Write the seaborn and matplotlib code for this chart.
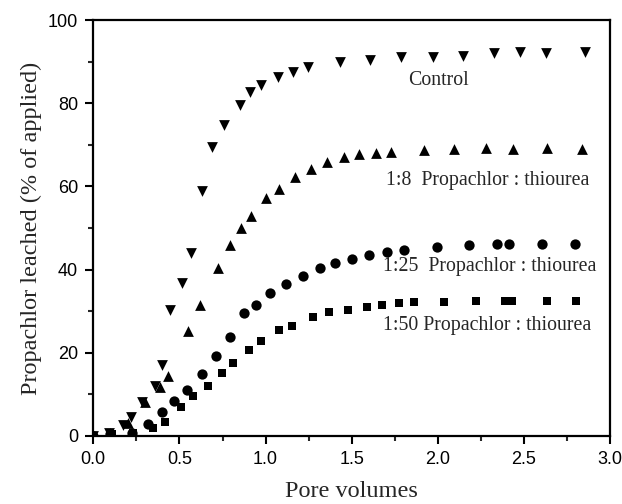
import pandas as pd
import matplotlib.pyplot as plt
import seaborn as sns
from matplotlib.ticker import MultipleLocator

# data
ctrl_x = [0, 0.09, 0.17, 0.22, 0.28, 0.357, 0.396, 0.448, 0.514, 0.566, 0.628, 0.691,
          0.759, 0.851, 0.911, 0.973, 1.071, 1.160, 1.247, 1.43, 1.606, 1.786, 1.969,
          2.148, 2.326, 2.476, 2.625, 2.853]
ctrl_y = [0, 0.6, 2.6, 4.6, 8.2, 12.0, 17.0, 30.4, 36.8, 44.0, 58.9, 69.5,
          74.7, 79.6, 82.8, 84.4, 86.3, 87.6, 88.7, 90.0, 90.4, 91.1, 91.2,
          91.5, 92.1, 92.3, 92.0, 92.3]

r8_x = [0, 0.097, 0.203, 0.30, 0.386, 0.436, 0.547, 0.618, 0.724, 0.792, 0.859, 0.917,
        1.004, 1.077, 1.168, 1.265, 1.357, 1.453, 1.544, 1.641, 1.725, 1.921, 2.094,
        2.278, 2.436, 2.635, 2.837]
r8_y = [0, 0.8, 3.0, 8.2, 11.8, 14.5, 25.2, 31.5, 40.4, 45.9, 50.1, 52.9,
        57.2, 59.5, 62.3, 64.3, 65.9, 67.2, 67.9, 68.0, 68.3, 68.8, 69.1,
        69.2, 69.1, 69.2, 69.1]

r25_x = [0, 0.097, 0.222, 0.319, 0.396, 0.469, 0.541, 0.633, 0.714, 0.792, 0.873, 0.942,
         1.027, 1.116, 1.220, 1.313, 1.405, 1.500, 1.602, 1.703, 1.805, 1.992, 2.181,
         2.345, 2.413, 2.602, 2.795]
r25_y = [0, 0.5, 0.8, 2.9, 5.8, 8.5, 11.0, 15.0, 19.2, 23.7, 29.5, 31.5,
         34.3, 36.5, 38.4, 40.3, 41.5, 42.5, 43.6, 44.3, 44.8, 45.4, 45.9,
         46.1, 46.1, 46.1, 46.1]

r50_x = [0, 0.106, 0.228, 0.344, 0.415, 0.508, 0.579, 0.666, 0.745, 0.811, 0.901, 0.975,
         1.075, 1.152, 1.274, 1.367, 1.478, 1.587, 1.676, 1.772, 1.863, 2.036, 2.220,
         2.39, 2.43, 2.635, 2.799]
r50_y = [0, 0.4, 0.6, 1.8, 3.4, 7.0, 9.6, 12.0, 15.2, 17.6, 20.6, 22.9,
         25.4, 26.5, 28.5, 29.7, 30.3, 31.0, 31.5, 31.9, 32.1, 32.2, 32.4,
         32.4, 32.4, 32.4, 32.4]

sns.set_style("ticks")
plt.rcParams['font.family'] = ['Liberation Sans', 'DejaVu Sans']

fig = plt.figure(figsize=(6.22, 5.04), dpi=100)
ax = fig.add_axes([0.150, 0.135, 0.831, 0.825])

sns.scatterplot(x=ctrl_x, y=ctrl_y, marker='v', s=60, color='black', linewidth=0, ax=ax)
sns.scatterplot(x=r8_x, y=r8_y, marker='^', s=60, color='black', linewidth=0, ax=ax)
sns.scatterplot(x=r25_x, y=r25_y, marker='o', s=55, color='black', linewidth=0, ax=ax)
sns.scatterplot(x=r50_x, y=r50_y, marker='s', s=40, color='black', linewidth=0, ax=ax)

ax.set_xlim(0, 3.0)
ax.set_ylim(0, 100)
ax.xaxis.set_major_locator(MultipleLocator(0.5))
ax.xaxis.set_minor_locator(MultipleLocator(0.25))
ax.yaxis.set_major_locator(MultipleLocator(20))
ax.yaxis.set_minor_locator(MultipleLocator(10))
ax.tick_params(which='major', direction='out', length=6, width=1.5, labelsize=13,
               colors='black', pad=5)
ax.tick_params(which='minor', direction='out', length=3.5, width=1.5)
ax.xaxis.set_major_formatter(plt.FuncFormatter(lambda v, p: f"{v:.1f}"))
for sp in ax.spines.values():
    sp.set_linewidth(1.6)
    sp.set_color('black')

serif = ['Liberation Serif', 'DejaVu Serif']
ax.set_xlabel('Pore volumes', fontsize=17.5, family=serif, labelpad=9)
ax.set_ylabel('Propachlor leached (% of applied)', fontsize=17.5, family=serif, labelpad=4)

ax.text(1.83, 85.5, 'Control', fontsize=14.3, family=serif, va='center')
ax.text(1.70, 61.5, '1:8  Propachlor : thiourea', fontsize=14.3, family=serif, va='center')
ax.text(1.68, 40.7, '1:25  Propachlor : thiourea', fontsize=14.3, family=serif, va='center')
ax.text(1.68, 26.5, '1:50 Propachlor : thiourea', fontsize=14.3, family=serif, va='center')

plt.savefig('out.png', dpi=100)
